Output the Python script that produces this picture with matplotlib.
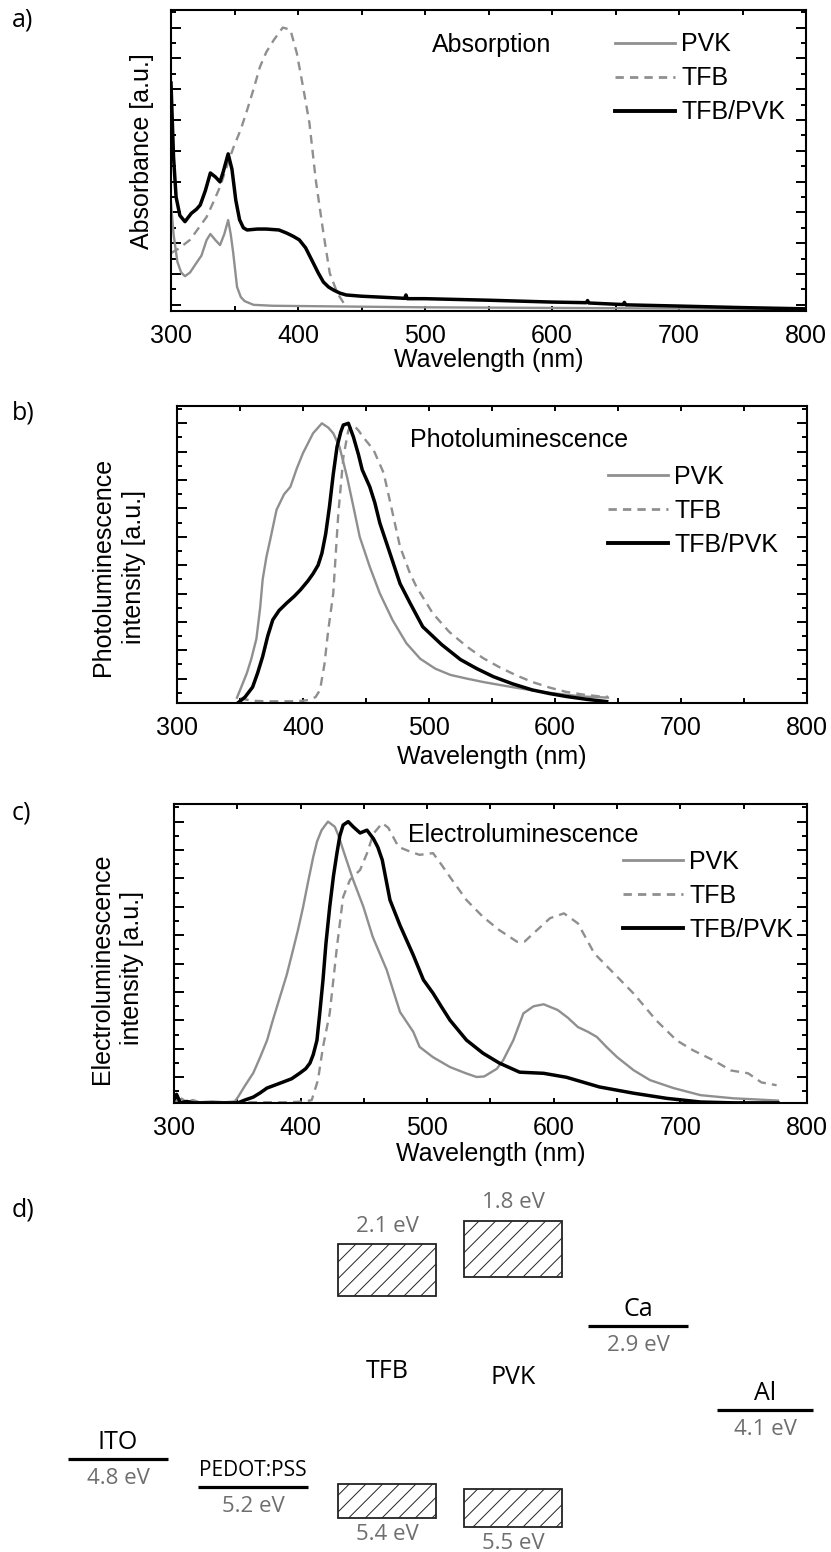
import numpy as np
import matplotlib
matplotlib.use('Agg')
import matplotlib.pyplot as plt
from matplotlib.ticker import MultipleLocator
from matplotlib.patches import Rectangle
from matplotlib.lines import Line2D

plt.rcParams['font.family'] = ['Liberation Sans', 'DejaVu Sans']
plt.rcParams['hatch.linewidth'] = 0.7

# ---------------- data: (a) absorption ----------------
abs_pvk_wl = [300, 302, 305, 308, 311, 315, 320, 324, 328, 331, 335, 338.6, 342, 345, 347, 349,
              352, 355, 358, 365, 380, 450, 500, 600, 700, 800]
abs_pvk = [0.43, 0.33, 0.24, 0.205, 0.193, 0.205, 0.236, 0.26, 0.31, 0.33, 0.31, 0.294, 0.33, 0.375,
           0.33, 0.268, 0.158, 0.125, 0.112, 0.10, 0.097, 0.094, 0.092, 0.09, 0.088, 0.086]

abs_tfb_wl = [300, 305, 310, 315, 321, 328, 333, 338.6, 344, 349, 355, 360, 365, 370, 375, 381,
              388, 394, 399, 404, 409, 414, 420, 425, 431, 437]
abs_tfb = [0.268, 0.28, 0.295, 0.311, 0.345, 0.385, 0.43, 0.483, 0.55, 0.609, 0.67, 0.733, 0.80,
           0.872, 0.92, 0.96, 1.0, 0.993, 0.918, 0.807, 0.69, 0.505, 0.333, 0.203, 0.138, 0.099]

abs_blend_wl = [300, 301, 302, 304, 307, 311, 316, 320, 323, 327, 331, 335, 338.6, 341, 345, 348,
                351, 354, 357, 360, 368, 375, 385, 391, 396, 401, 406, 412, 416, 420, 424, 428,
                433, 438, 450, 480, 484, 485, 486, 500, 550, 600, 627, 628, 629, 650, 656, 657,
                658, 700, 750, 800]
abs_blend = [0.82, 0.70, 0.58, 0.45, 0.39, 0.37, 0.397, 0.41, 0.424, 0.47, 0.528, 0.515, 0.499,
             0.53, 0.59, 0.54, 0.44, 0.376, 0.35, 0.343, 0.346, 0.346, 0.343, 0.333, 0.323, 0.311,
             0.285, 0.236, 0.203, 0.174, 0.158, 0.148, 0.138, 0.132, 0.128, 0.122, 0.121, 0.132,
             0.12, 0.12, 0.115, 0.109, 0.107, 0.114, 0.106, 0.102, 0.101, 0.108, 0.100, 0.096,
             0.091, 0.087]

# ---------------- data: (b) photoluminescence ----------------
pl_pvk_wl = [347.6, 351, 355.5, 359, 363, 366, 368, 371, 374, 379, 385, 390, 395, 400, 408, 415,
             420, 424, 429, 435, 440, 445, 453, 461, 471, 482, 493, 505, 517, 530, 543, 557, 570,
             583, 596, 609, 622, 632, 642]
pl_pvk = [0.033, 0.07, 0.12, 0.17, 0.24, 0.35, 0.45, 0.53, 0.59, 0.695, 0.75, 0.776, 0.84, 0.895,
          0.965, 1.0, 0.985, 0.965, 0.917, 0.81, 0.706, 0.60, 0.494, 0.40, 0.307, 0.225, 0.17,
          0.135, 0.113, 0.1, 0.088, 0.077, 0.067, 0.058, 0.05, 0.043, 0.037, 0.035, 0.033]

pl_tfb_wl = [350, 360, 370, 380, 390, 400, 405, 410, 413.5, 417, 420, 424, 428, 432, 436, 440,
             444, 448, 456, 464, 470, 477, 485, 490, 503, 516, 530, 543, 556, 569, 582, 596, 609,
             622, 636, 642]
pl_tfb = [0.03, 0.022, 0.02, 0.02, 0.02, 0.022, 0.025, 0.035, 0.06, 0.15, 0.27, 0.40, 0.68, 0.88,
          0.976, 0.994, 0.975, 0.95, 0.906, 0.825, 0.706, 0.565, 0.47, 0.424, 0.33, 0.265, 0.213,
          0.172, 0.14, 0.112, 0.088, 0.068, 0.053, 0.044, 0.037, 0.036]

pl_blend_wl = [348.5, 354, 360, 364, 368, 372, 376, 381, 387, 393, 398, 404, 408, 412, 415, 418,
               421, 424, 427, 430, 432, 436, 440, 444, 447, 453, 457, 461, 469, 477, 485, 495, 510,
               525, 538, 551, 566, 582, 596, 609, 625, 641]
pl_blend = [0.015, 0.035, 0.07, 0.12, 0.178, 0.25, 0.307, 0.34, 0.366, 0.39, 0.413, 0.445, 0.47,
            0.5, 0.542, 0.61, 0.706, 0.82, 0.917, 0.97, 0.994, 1.0, 0.952, 0.89, 0.836, 0.776,
            0.72, 0.648, 0.542, 0.435, 0.366, 0.283, 0.22, 0.167, 0.135, 0.107, 0.082, 0.06,
            0.047, 0.037, 0.027, 0.019]

# ---------------- data: (c) electroluminescence ----------------
el_pvk_wl = [300, 303, 306, 310, 315, 320, 330, 340, 348, 350.5, 356, 362.6, 368, 373.5, 378,
             383.7, 389, 394, 398, 402, 406, 410, 413, 416.6, 421.6, 427, 430, 433.6, 441.5, 449.6,
             457, 468, 478.5, 489, 494, 504.5, 518, 530, 539, 545, 549.5, 555, 560, 568, 576, 584,
             592, 603, 611, 619, 627, 634, 642, 650, 663, 676, 694.6, 716, 742, 760, 777]
el_pvk = [0.03, 0.015, 0.025, 0.012, 0.02, 0.012, 0.015, 0.012, 0.015, 0.03, 0.07, 0.115, 0.17,
          0.23, 0.30, 0.383, 0.46, 0.548, 0.62, 0.70, 0.79, 0.876, 0.93, 0.97, 1.0, 0.982, 0.95,
          0.90, 0.795, 0.70, 0.594, 0.478, 0.33, 0.26, 0.207, 0.171, 0.136, 0.115, 0.101, 0.103,
          0.115, 0.13, 0.16, 0.23, 0.325, 0.35, 0.357, 0.337, 0.31, 0.277, 0.26, 0.242, 0.205,
          0.171, 0.125, 0.09, 0.062, 0.037, 0.026, 0.022, 0.018]

el_tfb_wl = [300, 330, 360, 390, 404, 408.8, 413.7, 417.7, 423, 428.7, 433.6, 439, 447, 452.5,
             457.6, 464.5, 469.3, 477.3, 486.7, 494, 504.6, 511, 518, 531, 544, 557, 571, 577, 584,
             597, 608, 619, 632, 645, 663, 681, 697, 710, 726, 740, 753.5, 764, 776]
el_tfb = [0.012, 0.012, 0.012, 0.012, 0.015, 0.02, 0.09, 0.207, 0.325, 0.559, 0.735, 0.795, 0.83,
          0.889, 0.958, 0.995, 0.978, 0.911, 0.894, 0.883, 0.889, 0.85, 0.805, 0.724, 0.665,
          0.618, 0.577, 0.578, 0.607, 0.66, 0.677, 0.642, 0.536, 0.477, 0.395, 0.30, 0.23, 0.195,
          0.16, 0.124, 0.114, 0.082, 0.072]

el_blend_wl = [300, 302, 305, 310, 315, 330, 350.5, 356, 362.5, 368, 373.4, 380, 386, 393, 399.5,
               404, 407.4, 410, 412.9, 415, 417.7, 420, 423, 426, 428.7, 431, 433.6, 437.6, 441.5,
               447, 452.4, 457.5, 461, 464.5, 470.6, 478.5, 489, 497, 504.6, 511, 518, 531, 544,
               557, 573, 592, 610, 636, 663, 689, 716, 742, 777]
el_blend = [0.02, 0.04, 0.01, 0.015, 0.01, 0.01, 0.01, 0.02, 0.03, 0.045, 0.062, 0.073, 0.083,
            0.095, 0.115, 0.13, 0.15, 0.18, 0.23, 0.32, 0.443, 0.57, 0.70, 0.81, 0.889, 0.95,
            0.988, 1.0, 0.982, 0.96, 0.97, 0.94, 0.91, 0.865, 0.724, 0.635, 0.53, 0.443, 0.396,
            0.35, 0.301, 0.231, 0.185, 0.15, 0.118, 0.114, 0.1, 0.066, 0.044, 0.026, 0.013, 0.01,
            0.01]

series_labels = ['PVK', 'TFB', 'TFB/PVK']

# ---------------- data: (d) energy levels ----------------
electrode_names = ['ITO', 'PEDOT:PSS', 'Ca', 'Al']
electrode_levels = [4.8, 5.2, 2.9, 4.1]
semi_names = ['TFB', 'PVK']
semi_lumo = [2.1, 1.8]
semi_homo = [5.4, 5.5]

# ---------------- styling ----------------
GRAY = '#8f8f8f'
W, H = 831, 1552
fig = plt.figure(figsize=(W / 100, H / 100), dpi=100)


def px_axes(l, t, r, b):
    return fig.add_axes([l / W, 1 - b / H, (r - l) / W, (b - t) / H])


def style(ax, ylim):
    ax.set_xlim(300, 800)
    ax.set_ylim(*ylim)
    ax.xaxis.set_major_locator(MultipleLocator(100))
    ax.xaxis.set_minor_locator(MultipleLocator(50))
    ax.yaxis.set_major_locator(MultipleLocator(0.1))
    ax.yaxis.set_minor_locator(MultipleLocator(0.05))
    ax.tick_params(which='both', direction='in', top=True, right=True, width=1.4,
                   labelsize=18, labelleft=False, color='black')
    ax.tick_params(axis='x', which='both', length=3.6, pad=9.5)
    ax.tick_params(axis='y', which='major', length=7.2)
    ax.tick_params(axis='y', which='minor', length=3.6)
    for s in ax.spines.values():
        s.set_linewidth(1.5)


def draw(ax, p, t, b):
    ax.plot(p[0], p[1], color=GRAY, lw=1.7, solid_joinstyle='round')
    ax.plot(t[0], t[1], color=GRAY, lw=1.7, linestyle=(0, (3.7, 2.6)))
    ax.plot(b[0], b[1], color='black', lw=2.5, solid_joinstyle='round')


def legend(ax, fx, fy):
    handles = [Line2D([], [], color=GRAY, lw=2.0),
               Line2D([], [], color=GRAY, lw=2.0, linestyle=(0, (3.0, 2.2))),
               Line2D([], [], color='black', lw=2.8)]
    ax.legend(handles, series_labels, loc='upper left', bbox_to_anchor=(fx, fy),
              frameon=False, fontsize=18, handlelength=2.4, handletextpad=0.25,
              labelspacing=0.4, borderpad=0, borderaxespad=0)


def ylabel(ax, text, fx, fy):
    ax.set_ylabel(text, fontsize=18, linespacing=1.35, multialignment='center')
    ax.yaxis.set_label_coords(fx, fy)
    ax.yaxis.label.set_va('center')


def xlabel(ax, fy):
    ax.set_xlabel('Wavelength (nm)', fontsize=18)
    ax.xaxis.set_label_coords(0.5, fy)
    ax.xaxis.label.set_va('center')


# (a)
ax_a = px_axes(171, 10, 806, 311)
style(ax_a, (0.080, 1.057))
draw(ax_a, (abs_pvk_wl, abs_pvk), (abs_tfb_wl, abs_tfb), (abs_blend_wl, abs_blend))
legend(ax_a, 0.699, 0.926)
ax_a.text(0.411, 0.884, 'Absorption', transform=ax_a.transAxes, ha='left', va='center', fontsize=18)
ylabel(ax_a, 'Absorbance [a.u.]', -0.046, 0.532)
xlabel(ax_a, -0.162)

# (b)
ax_b = px_axes(177, 406, 807, 703)
style(ax_b, (0.014, 1.061))
draw(ax_b, (pl_pvk_wl, pl_pvk), (pl_tfb_wl, pl_tfb), (pl_blend_wl, pl_blend))
legend(ax_b, 0.684, 0.802)
ax_b.text(0.37, 0.885, 'Photoluminescence', transform=ax_b.transAxes, ha='left', va='center', fontsize=18)
ylabel(ax_b, 'Photoluminescence\nintensity [a.u.]', -0.093, 0.457)
xlabel(ax_b, -0.182)

# (c)
ax_c = px_axes(174, 804, 807, 1103)
style(ax_c, (0.0095, 1.062))
draw(ax_c, (el_pvk_wl, el_pvk), (el_tfb_wl, el_tfb), (el_blend_wl, el_blend))
legend(ax_c, 0.709, 0.847)
ax_c.text(0.370, 0.896, 'Electroluminescence', transform=ax_c.transAxes, ha='left', va='center', fontsize=18)
ylabel(ax_c, 'Electroluminescence\nintensity [a.u.]', -0.09, 0.45)
xlabel(ax_c, -0.172)

# panel letters
for letter, ypx in [('a)', 20), ('b)', 413), ('c)', 813), ('d)', 1210)]:
    fig.text(12 / W, 1 - ypx / H, letter, family=['Open Sans', 'DejaVu Sans'], fontsize=18,
             ha='left', va='center')

# (d) energy diagram
ax_d = fig.add_axes([0, 0, 1, (H - 1180) / H])
ax_d.set_xlim(0, W)
ax_d.set_ylim(6.129, 0.814)
ax_d.axis('off')
DFONT = ['Open Sans', 'DejaVu Sans']
EGRAY = '#6e6e6e'

electrode_x = [118, 253, 638, 765]
electrode_halfw = [50, 55, 50, 48]
electrode_fs = [18, 15, 18, 18]
for name, lev, cx, hw, fs in zip(electrode_names, electrode_levels, electrode_x, electrode_halfw, electrode_fs):
    ax_d.plot([cx - hw, cx + hw], [lev, lev], color='black', lw=2.3, solid_capstyle='butt')
    ax_d.annotate(name, (cx, lev), xytext=(0, 12), textcoords='offset points', ha='center',
                  va='center', fontsize=fs, family=DFONT)
    ax_d.annotate(f'{lev:.1f} eV', (cx, lev), xytext=(0, -14), textcoords='offset points',
                  ha='center', va='center', fontsize=16, family=DFONT, color=EGRAY)

semi_x = [387, 513]
lumo_h = [0.73, 0.80]
homo_h = [0.49, 0.53]
name_y = [3.55, 3.63]
box_hw = 49
for name, lu, ho, cx, lh, hh, ny in zip(semi_names, semi_lumo, semi_homo, semi_x, lumo_h, homo_h, name_y):
    for lev, hgt, sign, off in [(lu, lh, 1, 13), (ho, hh, -1, 12)]:
        r = Rectangle((cx - box_hw, lev - hgt / 2), 2 * box_hw, hgt, facecolor='white',
                      edgecolor='#222222', lw=1.3, hatch='//')
        ax_d.add_patch(r)
        edge = lev - hgt / 2 if sign > 0 else lev + hgt / 2
        ax_d.annotate(f'{lev:.1f} eV', (cx, edge), xytext=(0, off * sign), textcoords='offset points',
                      ha='center', va='center', fontsize=16, family=DFONT, color=EGRAY)
    ax_d.text(cx, ny, name, ha='center', va='center', fontsize=18, family=DFONT)

fig.savefig('out.png', dpi=100)
